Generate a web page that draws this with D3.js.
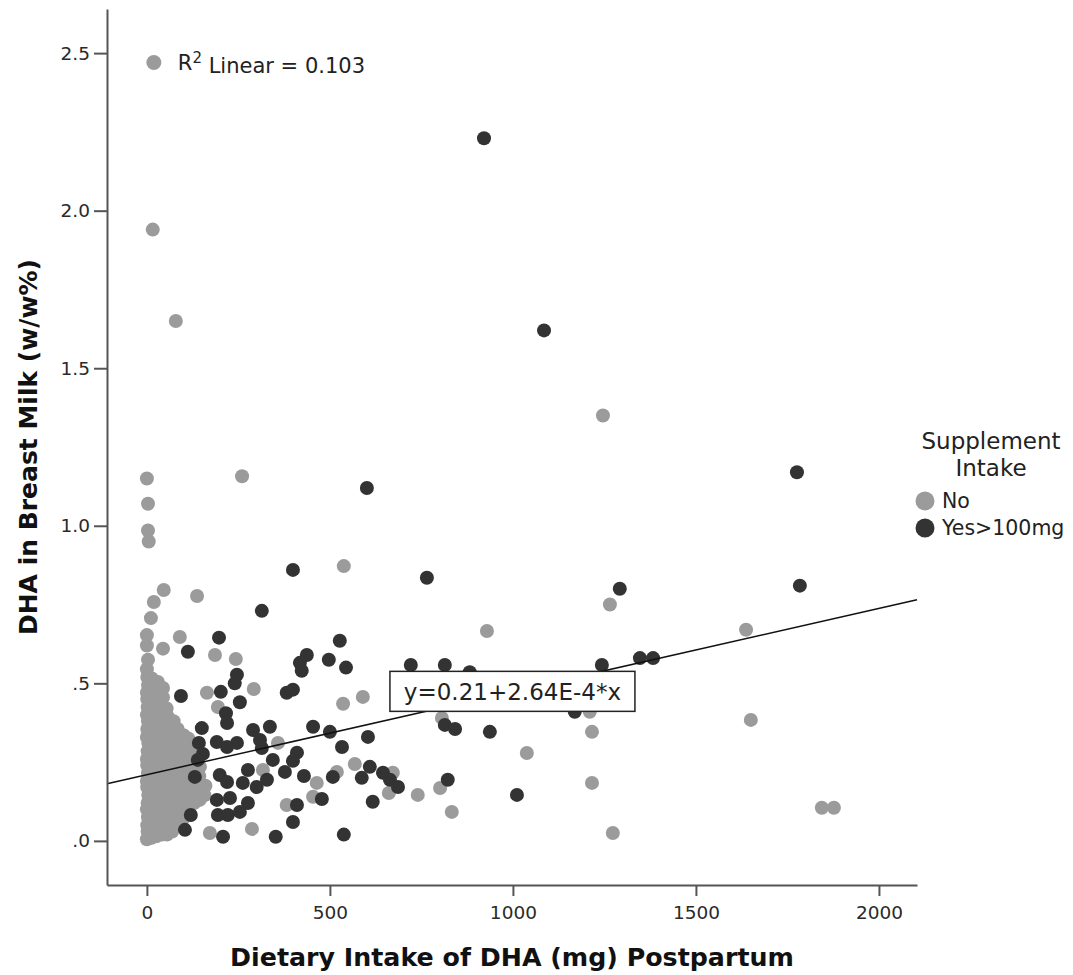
<!DOCTYPE html>
<html>
<head>
<meta charset="utf-8">
<script src="https://cdn.jsdelivr.net/npm/d3@7"></script>
<style>
  body { margin: 0; background: #fff; }
  svg { display: block; font-family: "DejaVu Sans", sans-serif; }
</style>
</head>
<body>
<svg id="chart"></svg>
<script>
// ---- data ----
const xTicks = [0, 500, 1000, 1500, 2000];
const yTicks = [0, 0.5, 1.0, 1.5, 2.0, 2.5];
const yTickLabels = ['.0', '.5', '1.0', '1.5', '2.0', '2.5'];
const groups = ['No', 'Yes>100mg'];
const fitIntercept = 0.21;
const fitSlope = 2.64e-4;
const fitLabel = 'y=0.21+2.64E-4*x';
const r2Value = '0.103';

// dense block of "No" women close to zero intake
const noCluster = [
  [0,.005],[2,.03],[1,.05],[3,.075],[0,.10],[2,.12],[4,.145],[1,.17],[0,.19],[3,.215],[1,.24],[0,.26],
  [2,.285],[4,.31],[0,.33],[1,.355],[3,.38],[0,.40],[2,.425],[1,.45],[0,.47],[3,.495],[1,.52],[0,.545],
  [13,.01],[15,.035],[12,.06],[16,.085],[14,.11],[13,.135],[17,.16],[15,.185],[12,.21],[16,.235],[14,.26],
  [13,.285],[15,.31],[17,.335],[12,.36],[14,.385],[16,.41],[13,.435],[15,.46],[12,.485],[14,.515],
  [27,.015],[29,.04],[31,.065],[26,.09],[28,.115],[30,.14],[27,.165],[31,.19],[29,.215],[26,.24],
  [28,.265],[30,.29],[27,.315],[29,.34],[31,.365],[28,.39],[26,.415],[30,.44],[27,.47],[29,.50],
  [41,.02],[43,.045],[45,.07],[40,.095],[42,.12],[44,.145],[41,.17],[45,.195],[43,.22],[40,.245],
  [42,.27],[44,.295],[41,.32],[43,.345],[45,.37],[42,.395],[40,.42],[44,.455],
  [55,.02],[57,.045],[59,.07],[54,.095],[56,.12],[58,.145],[55,.17],[59,.195],[57,.22],[54,.245],
  [56,.27],[58,.295],[55,.32],[57,.345],[59,.37],[56,.395],[54,.42],
  [69,.03],[71,.055],[73,.08],[68,.105],[70,.13],[72,.155],[69,.18],[73,.205],[71,.23],[68,.255],
  [70,.28],[72,.305],[69,.33],[71,.355],[73,.38],
  [84,.05],[86,.075],[88,.10],[83,.125],[85,.15],[87,.175],[84,.20],[88,.225],[86,.25],[83,.275],
  [85,.30],[87,.325],[84,.355],
  [99,.07],[101,.095],[103,.12],[98,.145],[100,.17],[102,.195],[99,.22],[103,.245],[101,.27],[98,.295],[100,.335],
  [114,.09],[116,.115],[118,.14],[113,.165],[115,.19],[117,.215],[114,.24],[118,.265],[116,.29],[113,.325],
  [129,.12],[131,.145],[133,.17],[128,.195],[130,.22],[132,.245],[129,.27],[131,.30],
  [144,.13],[146,.155],[148,.18],[143,.205],[145,.235],
  [157,.145],[160,.175]
];

// the rest of the "No" points
const noScatter = [
  [16,1.94],[79,1.65],[0,1.15],[3,1.07],[3,.985],[5,.95],[260,1.157],[1246,1.35],[538,.872],[46,.796],
  [19,.758],[11,.707],[137,.777],[0,.653],[90,.647],[0,.62],[44,.61],[186,.59],[243,.577],[3,.575],
  [30,.504],[44,.485],[164,.47],[292,.482],[536,.435],[194,.425],[57,.393],[358,.311],[519,.219],
  [317,.225],[464,.184],[454,.14],[382,.114],[172,.025],[287,.038],[1265,.75],[929,.666],[1637,.67],
  [590,.457],[806,.39],[1210,.41],[1216,.346],[1038,.279],[568,.244],[672,.216],[661,.152],[740,.146],
  [801,.168],[833,.092],[1216,.184],[1273,.025],[1650,.384],[1844,.105],[1877,.105]
];

// "Yes>100mg" points
const yesPoints = [
  [921,2.23],[1085,1.62],[601,1.12],[1776,1.17],[1292,.80],[1784,.81],[1347,.58],[1383,.58],[765,.835],
  [399,.86],[314,.73],[197,.645],[527,.635],[112,.60],[437,.59],[418,.565],[423,.54],[497,.575],[544,.55],
  [246,.527],[240,.50],[202,.473],[93,.46],[254,.44],[382,.47],[399,.48],[216,.405],[219,.374],[150,.358],
  [290,.352],[336,.362],[454,.362],[500,.346],[142,.311],[191,.314],[246,.311],[309,.32],[314,.295],
  [219,.298],[139,.257],[153,.276],[344,.257],[533,.298],[410,.28],[399,.254],[377,.219],[429,.206],
  [508,.203],[131,.203],[199,.209],[219,.187],[276,.225],[262,.184],[300,.171],[328,.194],[478,.133],
  [191,.13],[227,.136],[276,.12],[194,.082],[221,.082],[254,.092],[410,.114],[120,.082],[399,.06],
  [104,.035],[208,.013],[352,.013],[538,.02],[721,.558],[814,.558],[882,.535],[1243,.558],[1169,.41],
  [814,.368],[842,.355],[937,.346],[604,.33],[609,.235],[587,.2],[645,.216],[664,.194],[686,.171],
  [822,.194],[617,.124],[1011,.146]
];

// ---- layout ----
const W = 1073, H = 975;
const margin = { top: 9, right: 156, bottom: 90, left: 107 };
const width = W - margin.left - margin.right;
const height = H - margin.top - margin.bottom;
const colors = { 'No': '#9b9b9b', 'Yes>100mg': '#333333' };
const dotR = 7;

const svg = d3.select('#chart')
  .attr('width', W)
  .attr('height', H);

svg.append('rect').attr('width', W).attr('height', H).attr('fill', '#fff');

const el = svg.append('g')
  .attr('transform', `translate(${margin.left}, ${margin.top})`);

const xScale = d3.scaleLinear()
  .domain([-109, 2104])
  .range([0, width]);

const yScale = d3.scaleLinear()
  .domain([-0.14, 2.64])
  .range([height, 0]);

// points
el.append('g')
  .selectAll('circle')
  .data(noCluster.concat(noScatter))
  .join('circle')
  .attr('cx', d => xScale(d[0]))
  .attr('cy', d => yScale(d[1]))
  .attr('r', dotR)
  .attr('fill', colors['No']);

el.append('g')
  .selectAll('circle')
  .data(yesPoints)
  .join('circle')
  .attr('cx', d => xScale(d[0]))
  .attr('cy', d => yScale(d[1]))
  .attr('r', dotR)
  .attr('fill', colors['Yes>100mg']);

// fit line across the whole x range
const [x0, x1] = xScale.domain();
el.append('line')
  .attr('x1', xScale(x0))
  .attr('x2', xScale(x1))
  .attr('y1', yScale(fitIntercept + fitSlope * x0))
  .attr('y2', yScale(fitIntercept + fitSlope * x1))
  .attr('stroke', '#111')
  .attr('stroke-width', 1.5);

// equation box
const eq = el.append('g')
  .attr('transform', `translate(${xScale(664)}, ${yScale(0.538)})`);
eq.append('rect')
  .attr('width', 245)
  .attr('height', 40)
  .attr('fill', '#fff')
  .attr('stroke', '#222')
  .attr('stroke-width', 1.5);
eq.append('text')
  .attr('x', 122.5)
  .attr('y', 20)
  .attr('dy', '.36em')
  .attr('text-anchor', 'middle')
  .attr('font-size', '23px')
  .attr('fill', '#222')
  .text(fitLabel);

// axes
const yAxis = d3.axisLeft(yScale)
  .tickValues(yTicks)
  .tickFormat((d, i) => yTickLabels[i])
  .tickSize(13)
  .tickSizeOuter(0)
  .tickPadding(4);

const xAxis = d3.axisBottom(xScale)
  .tickValues(xTicks)
  .tickFormat(d3.format('d'))
  .tickSize(11)
  .tickSizeOuter(0)
  .tickPadding(10);

const gy = el.append('g').call(yAxis);
const gx = el.append('g').attr('transform', `translate(0, ${height})`).call(xAxis);

[gx, gy].forEach(g => {
  g.select('.domain').attr('stroke', '#555').attr('stroke-width', 2);
  g.selectAll('.tick line').attr('stroke', '#555').attr('stroke-width', 2);
  g.selectAll('.tick text')
    .attr('font-size', '18.5px')
    .attr('font-family', '"DejaVu Sans", sans-serif')
    .attr('fill', '#2a2a2a');
});

// axis titles
svg.append('text')
  .attr('x', margin.left + width / 2)
  .attr('y', 966)
  .attr('text-anchor', 'middle')
  .attr('font-size', '25.3px')
  .attr('font-weight', 'bold')
  .attr('fill', '#111')
  .text('Dietary Intake of DHA (mg) Postpartum');

svg.append('text')
  .attr('transform', `translate(37, ${margin.top + height / 2}) rotate(-90)`)
  .attr('text-anchor', 'middle')
  .attr('font-size', '25px')
  .attr('font-weight', 'bold')
  .attr('fill', '#111')
  .text('DHA in Breast Milk (w/w%)');

// R² note
const r2 = el.append('g')
  .attr('transform', `translate(${xScale(19)}, ${yScale(2.47)})`);
r2.append('circle').attr('r', 7.5).attr('fill', colors['No']);
const r2t = r2.append('text')
  .attr('x', 24)
  .attr('y', 0)
  .attr('dy', '.36em')
  .attr('font-size', '21px')
  .attr('fill', '#222');
r2t.append('tspan').text('R');
r2t.append('tspan').attr('dy', '-.45em').attr('font-size', '15px').text('2');
r2t.append('tspan').attr('dy', '.45em').text(' Linear = ' + r2Value);

// legend
const legend = svg.append('g').attr('transform', 'translate(991, 0)');
legend.append('text')
  .attr('y', 449)
  .attr('text-anchor', 'middle')
  .attr('font-size', '23px')
  .attr('fill', '#222')
  .text('Supplement');
legend.append('text')
  .attr('y', 476)
  .attr('text-anchor', 'middle')
  .attr('font-size', '23px')
  .attr('fill', '#222')
  .text('Intake');

const items = legend.selectAll('g.item')
  .data(groups)
  .join('g')
  .attr('class', 'item')
  .attr('transform', (d, i) => `translate(-66, ${501 + i * 27})`);
items.append('circle').attr('r', 9.5).attr('fill', d => colors[d]);
items.append('text')
  .attr('x', 17)
  .attr('dy', '.36em')
  .attr('font-size', '20.5px')
  .attr('fill', '#222')
  .text(d => d);
</script>
</body>
</html>
